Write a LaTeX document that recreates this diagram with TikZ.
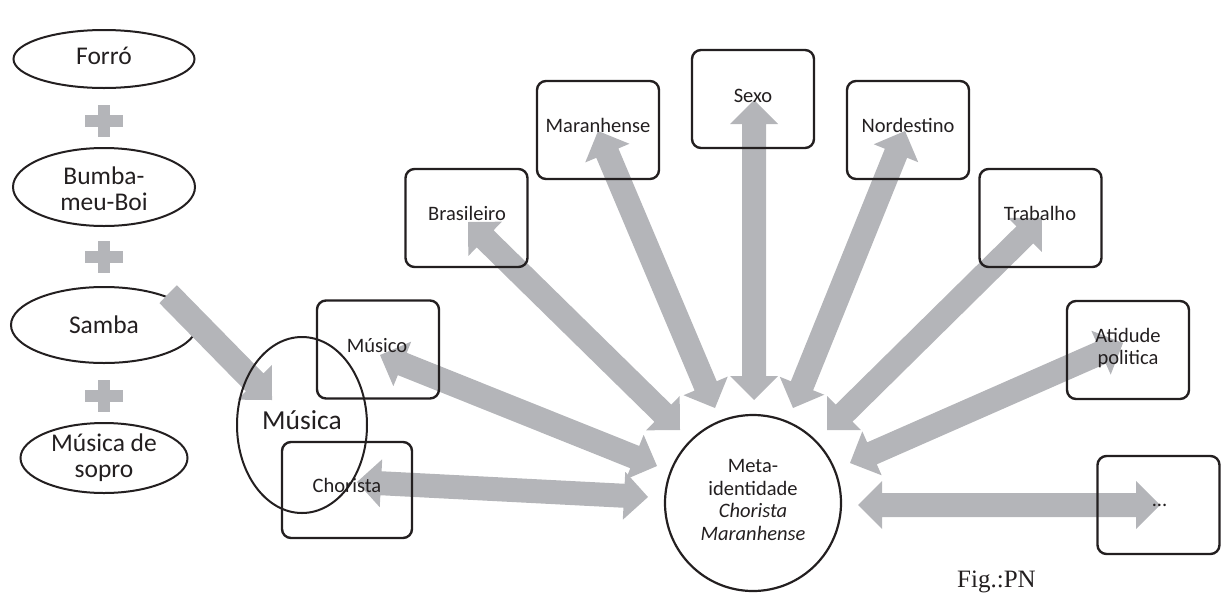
\documentclass[tikz,border=0pt]{standalone}
\usepackage{fontspec}
\setmainfont{Carlito}
\newfontfamily\figfont{Liberation Serif}
\usetikzlibrary{shapes.geometric,calc}
\definecolor{agray}{RGB}{180,181,185}
\definecolor{ink}{RGB}{35,31,32}

\newcommand\dblarrow[2]{%
 \path[fill=agray] let \p1=(#1),\p2=(#2),\n1={atan2(\y2-\y1,\x2-\x1)},\n2={veclen(\x2-\x1,\y2-\y1)} in
 (\p1) -- ++(\n1+45:33.94pt) -- ++(\n1-90:12pt) -- ++(\n1:{\n2-48pt}) -- ++(\n1+90:12pt) -- (\p2)
 -- ++(\n1+225:33.94pt) -- ++(\n1+90:12pt) -- ++(\n1+180:{\n2-48pt}) -- ++(\n1-90:12pt) -- cycle;}
\newcommand\sglarrow[2]{%
 \path[fill=agray] let \p1=(#1),\p2=(#2),\n1={atan2(\y2-\y1,\x2-\x1)},\n2={veclen(\x2-\x1,\y2-\y1)} in
 (\p1) -- ++(\n1+90:12.5pt) -- ++(\n1:{\n2-25pt}) -- ++(\n1+90:12pt) -- (\p2)
 -- ++(\n1+225:34.65pt) -- ++(\n1+90:12pt) -- ++(\n1+180:{\n2-25pt}) -- cycle;}

\tikzset{
 ell/.style={ellipse, draw=ink, line width=2pt, inner sep=0pt},
 bigtxt/.style={text=ink, font=\fontsize{25.5}{26}\selectfont, align=center, inner sep=0pt},
 box/.style={draw=ink, line width=2.4pt, rounded corners=9pt, minimum width=122pt, minimum height=98pt, inner sep=0pt},
 lbl/.style={text=ink, font=\fontsize{20.5}{22.5}\selectfont, align=center, inner sep=0pt},
 plusbar/.style={fill=agray, draw=none}
}

\begin{document}
\begin{tikzpicture}[x=1pt,y=-1pt]
\useasboundingbox (0,0) rectangle (1221,595);

% left column
\node[ell, minimum width=181pt, minimum height=58pt] (forro) at (104,59) {};
\node[ell, minimum width=182pt, minimum height=78pt] (bumba) at (104,187) {};
\node[ell, minimum width=186pt, minimum height=76pt] (samba) at (104,325) {};
\node[ell, minimum width=167pt, minimum height=70pt] (sopro) at (104,458) {};
\node[bigtxt, anchor=base] (tforro) at (104,64) {Forró};
\node[bigtxt] (tbumba) at (104,189) {Bumba-\\meu-Boi};
\node[bigtxt, anchor=base] (tsamba) at (104,333) {Samba};
\node[bigtxt] (tsopro) at (104,458) {Música de\\sopro};

\foreach \n/\yy in {p1/121,p2/257,p3/396}{
  \coordinate (\n) at (104,\yy);
  \fill[plusbar] ($(\n)+(-19,-6.25)$) rectangle ($(\n)+(19,6.25)$);
  \fill[plusbar] ($(\n)+(-6.25,-16)$) rectangle ($(\n)+(6.25,16)$);
}

% arrow end points
\coordinate (sA) at (168,294);   \coordinate (sB) at (272,400);
\coordinate (sxA) at (754,100);  \coordinate (sxB) at (754,400);
\coordinate (maA) at (598,131);  \coordinate (maB) at (715,408);
\coordinate (noA) at (905,131);  \coordinate (noB) at (793,408);
\coordinate (brA) at (468,222);  \coordinate (brB) at (680,430);
\coordinate (trA) at (1042,218); \coordinate (trB) at (827,430);
\coordinate (muA) at (380,355);  \coordinate (muB) at (657,466);
\coordinate (chA) at (357,482);  \coordinate (chB) at (648,497);
\coordinate (atA) at (1123,343); \coordinate (atB) at (850,463);
\coordinate (dtA) at (1160,505); \coordinate (dtB) at (858,505);

\sglarrow{sA}{sB}
\dblarrow{sxA}{sxB}
\dblarrow{maA}{maB}
\dblarrow{noA}{noB}
\dblarrow{brA}{brB}
\dblarrow{trA}{trB}
\dblarrow{muA}{muB}
\dblarrow{chA}{chB}
\dblarrow{atA}{atB}
\dblarrow{dtA}{dtB}

% boxes
\node[box] (bMus) at (378,349.5) {};
\node[box, minimum width=130pt, minimum height=96pt] (bCho) at (347,490) {};
\node[box] (bBra) at (466.5,218) {};
\node[box] (bMar) at (598,130) {};
\node[box] (bSex) at (753,99) {};
\node[box] (bNor) at (908,130) {};
\node[box] (bTra) at (1040.5,218) {};
\node[box] (bAti) at (1128,350) {};
\node[box] (bDot) at (1158.5,505) {};

\node[lbl, anchor=base] (tMus) at (377,352) {Músico};
\node[lbl, anchor=base] (tCho) at (347,492) {Chorista};
\node[lbl, anchor=base] (tBra) at (467,220) {Brasileiro};
\node[lbl, anchor=base] (tMar) at (598,132) {Maranhense};
\node[lbl, anchor=base] (tSex) at (753,102) {Sexo};
\node[lbl, anchor=base] (tNor) at (908,132) {Nordestino};
\node[lbl, anchor=base] (tTra) at (1040,220) {Trabalho};
\node[lbl] (tAti) at (1128,348) {Atidude\\politica};
\node[lbl, anchor=base] (tDot) at (1159.5,506) {...};

% central circle
\node[circle, draw=ink, line width=2.2pt, minimum size=176pt, inner sep=0pt] (meta) at (753,503) {};
\node[lbl] (tmeta) at (753,500) {Meta-\\identidade\\\textit{Chorista}\\\textit{Maranhense}};

% Musica ellipse
\node[ell, minimum width=130pt, minimum height=176pt] (musica) at (302,425) {};
\node[text=ink, font=\fontsize{27.5}{30}\selectfont, anchor=base, inner sep=0pt] (tmusica) at (302,429) {Música};

% caption
\node[text=ink, font=\figfont\fontsize{25}{28}\selectfont, anchor=base west, inner sep=0pt] (fig) at (957,587) {Fig.:PN};
\end{tikzpicture}
\end{document}
